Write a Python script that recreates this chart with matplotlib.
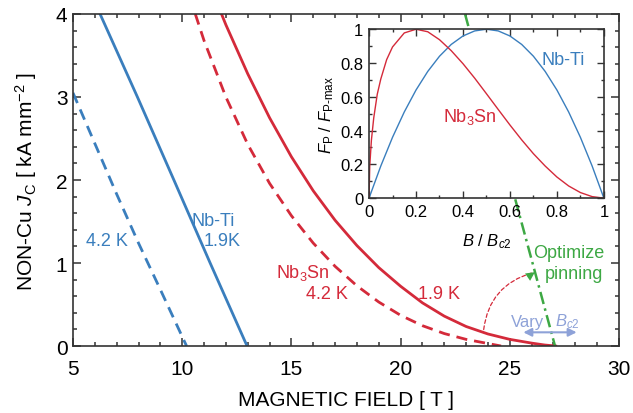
import matplotlib
matplotlib.use("Agg")
import matplotlib.pyplot as plt
from matplotlib.patches import FancyArrowPatch
from matplotlib.ticker import MultipleLocator

plt.rcParams['font.family'] = ['Liberation Sans', 'DejaVu Sans']
plt.rcParams['mathtext.fontset'] = 'custom'
plt.rcParams['mathtext.rm'] = 'Liberation Sans'
plt.rcParams['mathtext.it'] = 'Liberation Sans:italic'
plt.rcParams['mathtext.bf'] = 'Liberation Sans:bold'

# ---- critical current density vs field (kA/mm^2) ----
nbti_19_B = [6.24, 7.95, 9.62, 11.28, 12.97]
nbti_19_J = [4.0, 3.0, 2.0, 1.0, 0.0]

nbti_42_B = [5.0, 6.0, 7.0, 8.0, 9.0, 10.2]
nbti_42_J = [3.05, 2.44, 1.83, 1.24, 0.68, 0.0]

nb3sn_19_B = [11.8, 12.0, 13.0, 14.0, 15.0, 16.0, 17.0, 18.0, 19.0, 20.0,
              21.0, 22.0, 23.0, 24.0, 25.0, 26.0, 26.6, 27.1]
nb3sn_19_J = [4.0, 3.87, 3.28, 2.75, 2.28, 1.87, 1.515, 1.21, 0.945, 0.72,
              0.52, 0.36, 0.235, 0.145, 0.08, 0.035, 0.012, 0.0]

nb3sn_42_B = [10.6, 11.0, 12.0, 13.0, 14.0, 15.0, 16.0, 17.0, 18.0, 19.0,
              20.0, 21.0, 22.0, 23.0, 24.0, 24.6]
nb3sn_42_J = [4.0, 3.68, 3.0, 2.43, 1.96, 1.57, 1.24, 0.96, 0.725, 0.53,
              0.37, 0.245, 0.15, 0.08, 0.03, 0.0]

# "optimize pinning" guide line
opt_B = [22.95, 27.07]
opt_J = [4.0, 0.0]

# ---- normalized pinning force vs reduced field ----
fp_nbti_b = [0, 0.05, 0.1, 0.15, 0.2, 0.25, 0.3, 0.35, 0.4, 0.45, 0.5,
             0.55, 0.6, 0.65, 0.7, 0.75, 0.8, 0.85, 0.9, 0.95, 1.0]
fp_nbti_f = [0, 0.19, 0.36, 0.51, 0.64, 0.75, 0.84, 0.91, 0.96, 0.99, 1.0,
             0.99, 0.96, 0.91, 0.84, 0.75, 0.64, 0.51, 0.36, 0.19, 0]

fp_nb3sn_b = [0, 0.003, 0.01, 0.02, 0.035, 0.05, 0.075, 0.1, 0.15, 0.2, 0.25,
              0.3, 0.35, 0.4, 0.45, 0.5, 0.55, 0.6, 0.65, 0.7, 0.75, 0.8,
              0.85, 0.9, 0.95, 1.0]
fp_nb3sn_f = [0, 0.19, 0.342, 0.475, 0.615, 0.705, 0.82, 0.895, 0.978, 1.0,
              0.985, 0.938, 0.873, 0.796, 0.71, 0.618, 0.525, 0.433, 0.345,
              0.263, 0.19, 0.125, 0.072, 0.033, 0.009, 0]

BLUE = '#3a7ebd'
RED = '#d42a3a'
GREEN = '#3da844'
VARY = '#8ea2d8'
SPINE = '#333333'

fig = plt.figure(figsize=(6.33, 4.14), dpi=100)
ax = fig.add_axes([0.1153, 0.1618, 0.8626, 0.802])

ax.plot(nbti_19_B, nbti_19_J, color=BLUE, lw=2.0)
ax.plot(nbti_42_B, nbti_42_J, color=BLUE, lw=2.0, ls=(0, (4, 2.5)))
ax.plot(nb3sn_19_B, nb3sn_19_J, color=RED, lw=2.0)
ax.plot(nb3sn_42_B, nb3sn_42_J, color=RED, lw=2.0, ls=(0, (4, 2.5)))
ax.plot(opt_B, opt_J, color=GREEN, lw=1.8, ls=(0, (5, 1.8, 1, 1.8)))

ax.set_xlim(5, 30)
ax.set_ylim(0, 4)
ax.xaxis.set_major_locator(MultipleLocator(5))
ax.xaxis.set_minor_locator(MultipleLocator(1))
ax.yaxis.set_major_locator(MultipleLocator(1))
ax.yaxis.set_minor_locator(MultipleLocator(0.2))
ax.tick_params(which='both', direction='in', top=True, right=True,
               color=SPINE, width=1.1)
ax.tick_params(which='major', length=6, labelsize=15, pad=9)
ax.tick_params(axis='y', which='major', pad=4)
ax.tick_params(which='minor', length=3)
for s in ax.spines.values():
    s.set_color(SPINE)
    s.set_linewidth(1.2)

ax.set_xlabel('MAGNETIC FIELD [ T ]', fontsize=15, labelpad=9)
ax.set_ylabel(r'NON-Cu $J_\mathrm{C}$ [ kA mm$^{-2}$ ]', fontsize=15, labelpad=12)

# curve labels
ax.text(6.54, 1.27, '4.2 K', color=BLUE, fontsize=13, ha='center', va='center')
ax.text(11.43, 1.51, 'Nb-Ti', color=BLUE, fontsize=13, ha='center', va='center')
ax.text(11.81, 1.27, '1.9K', color=BLUE, fontsize=13, ha='center', va='center')
ax.text(15.51, 0.89, r'Nb$_3$Sn', color=RED, fontsize=13, ha='center', va='center')
ax.text(16.65, 0.63, '4.2 K', color=RED, fontsize=13, ha='center', va='center')
ax.text(21.76, 0.63, '1.9 K', color=RED, fontsize=13, ha='center', va='center')
ax.text(27.71, 1.13, 'Optimize', color=GREEN, fontsize=13, ha='center', va='center')
ax.text(27.95, 0.87, 'pinning', color=GREEN, fontsize=13, ha='center', va='center')
ax.text(25.83, 0.30, 'Vary', color=VARY, fontsize=12, ha='center', va='center')
ax.text(27.62, 0.30, r'$B_{c2}$', color=VARY, fontsize=12, ha='center', va='center')

# Bc2 variation arrow
ax.annotate('', xy=(25.62, 0.165), xytext=(28.06, 0.165),
            arrowprops=dict(arrowstyle='<|-|>', color=VARY, lw=1.5,
                            mutation_scale=12, shrinkA=0, shrinkB=0))

# curved dashed arrow toward the optimized-pinning line
arc = FancyArrowPatch((23.79, 0.165), (26.15, 0.89),
                      connectionstyle='arc3,rad=-0.35', arrowstyle='-',
                      color=RED, lw=0.9, ls=(0, (3, 2)))
ax.add_patch(arc)
ax.annotate('', xy=(26.15, 0.89), xytext=(25.65, 0.80),
            arrowprops=dict(arrowstyle='-|>', color=GREEN, lw=0,
                            mutation_scale=16, shrinkA=0, shrinkB=0))

# ---- inset: pinning force ----
ins = fig.add_axes([0.583, 0.519, 0.371, 0.408])
ins.set_facecolor('white')
ins.plot(fp_nbti_b, fp_nbti_f, color=BLUE, lw=1.0)
ins.plot(fp_nb3sn_b, fp_nb3sn_f, color=RED, lw=1.0)
ins.set_xlim(0, 1)
ins.set_ylim(0, 1)
ins.xaxis.set_minor_locator(MultipleLocator(0.1))
ins.yaxis.set_minor_locator(MultipleLocator(0.1))
ins.set_xticks([0, 0.2, 0.4, 0.6, 0.8, 1.0])
ins.set_xticklabels(['0', '0.2', '0.4', '0.6', '0.8', '1'])
ins.set_yticks([0, 0.2, 0.4, 0.6, 0.8, 1.0])
ins.set_yticklabels(['0', '0.2', '0.4', '0.6', '0.8', '1'])
ins.tick_params(which='both', direction='in', top=True, right=True,
                color=SPINE, width=1.0)
ins.tick_params(which='major', length=5, labelsize=12, pad=4)
ins.tick_params(which='minor', length=2.5)
for s in ins.spines.values():
    s.set_color(SPINE)
    s.set_linewidth(1.2)
ins.set_xlabel(r'$B$ / $B_{c2}$', fontsize=12, labelpad=9)
ins.set_ylabel(r'$F_\mathrm{P}$ / $F_{\mathrm{P}\text{-}\mathrm{max}}$', fontsize=12, labelpad=3)
ins.text(0.827, 0.822, 'Nb-Ti', color=BLUE, fontsize=13, ha='center', va='center')
ins.text(0.43, 0.487, r'Nb$_3$Sn', color=RED, fontsize=13, ha='center', va='center')

fig.savefig('out.png', dpi=100)
